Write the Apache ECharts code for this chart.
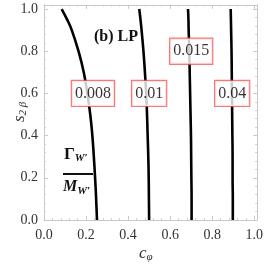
<!DOCTYPE html>
<html><head><meta charset="utf-8">
<script src="https://cdn.jsdelivr.net/npm/echarts@6/dist/echarts.min.js"></script>
<style>html,body{margin:0;padding:0;background:#fff}#c{width:266px;height:266px}</style>
</head><body><div id="c"></div>
<script>
// s_{2beta} sample values (y)
const sVals = [0.0, 0.1, 0.2, 0.3, 0.4, 0.5, 0.6, 0.7, 0.8, 0.9, 0.95, 1.0];
// c_phi values for each contour (x)
const c008 = [0.252, 0.248, 0.243, 0.237, 0.230, 0.220, 0.206, 0.189, 0.164, 0.132, 0.110, 0.084];
const c010 = [0.500, 0.499, 0.498, 0.496, 0.493, 0.490, 0.486, 0.480, 0.473, 0.464, 0.459, 0.453];
const c015 = [0.702, 0.702, 0.701, 0.700, 0.699, 0.697, 0.695, 0.693, 0.691, 0.688, 0.687, 0.685];
const c040 = [0.898, 0.898, 0.897, 0.897, 0.896, 0.895, 0.894, 0.893, 0.892, 0.890, 0.889, 0.888];
const contourNames = ['0.008', '0.01', '0.015', '0.04'];
// contour label positions
const labelX = [0.233, 0.500, 0.700, 0.895];
const labelY = [0.6, 0.6, 0.8, 0.6];
const tickLabels = ['0.0', '0.2', '0.4', '0.6', '0.8', '1.0'];

const serif = '"Liberation Serif", "Times New Roman", serif';
const curves = [c008, c010, c015, c040];

const chart = echarts.init(document.getElementById('c'));
const fmt = v => { const i = Math.round(v / 0.2); return Math.abs(v - i * 0.2) < 1e-6 ? tickLabels[i] : ''; };
const axisCommon = {
  min: 0, interval: 0.2,
  axisLine: { show: true, onZero: false, lineStyle: { color: '#c8c8c8', width: 1 } },
  axisTick: { show: true, inside: true, length: 4, lineStyle: { color: '#c8c8c8' } },
  minorTick: { show: true, splitNumber: 5, length: 2, lineStyle: { color: '#d0d0d0' } },
  splitLine: { show: false }
};
chart.setOption({
  animation: false,
  grid: { left: 44, top: 4.8, width: 218, height: 215.2, containLabel: false },
  xAxis: [
    Object.assign({}, axisCommon, { type: 'value', max: 1.014, position: 'bottom',
      axisLabel: { show: true, formatter: fmt, showMaxLabel: false, fontFamily: serif, fontSize: 14, color: '#333', margin: 8 } }),
    Object.assign({}, axisCommon, { type: 'value', max: 1.014, position: 'top', axisLabel: { show: false } })
  ],
  yAxis: [
    Object.assign({}, axisCommon, { type: 'value', max: 1.02, position: 'left',
      axisLabel: { show: true, formatter: fmt, showMaxLabel: false, fontFamily: serif, fontSize: 14, color: '#333', margin: 6 } }),
    Object.assign({}, axisCommon, { type: 'value', max: 1.02, position: 'right', axisLabel: { show: false } })
  ],
  series: curves.map((c, k) => ({
    type: 'line', xAxisIndex: 0, yAxisIndex: 0, showSymbol: false, smooth: true, z: 2,
    lineStyle: { color: '#000', width: 2.6 },
    data: c.map((x, i) => [x, sVals[i]])
  })).concat([{
    type: 'scatter', xAxisIndex: 0, yAxisIndex: 0, symbolSize: 0, z: 5,
    data: labelX.map((x, i) => ({ value: [x, labelY[i]], name: contourNames[i] })),
    label: { show: true, position: 'inside', formatter: p => p.name,
      fontFamily: serif, fontSize: 16, color: '#000',
      backgroundColor: '#fff', borderColor: '#ee5a5a', borderWidth: 1.2, padding: [5, 3, 4, 3] }
  }]),
  graphic: [
    { type: 'text', left: 94, top: 29, style: { text: '(b) LP', font: 'bold 16px ' + serif, fill: '#111' } },
    { type: 'text', left: 64, top: 146, style: { text: '{g|Γ}{w|W′}', rich: {
        g: { font: 'bold 17px ' + serif, fill: '#111' },
        w: { font: 'italic bold 11px ' + serif, fill: '#111', padding: [8, 0, 0, 0] } } } },
    { type: 'line', shape: { x1: 63, y1: 174, x2: 93, y2: 174 }, style: { stroke: '#111', lineWidth: 2 } },
    { type: 'text', left: 63, top: 179, style: { text: '{m|M}{w|W′}', rich: {
        m: { font: 'italic bold 16px ' + serif, fill: '#111' },
        w: { font: 'italic bold 11px ' + serif, fill: '#111', padding: [8, 0, 0, 0] } } } },
    { type: 'text', left: 139, top: 245, style: { text: '{c|c}{p|φ}', rich: {
        c: { font: 'italic 17px ' + serif, fill: '#333' },
        p: { font: 'italic 11px ' + serif, fill: '#333', padding: [8, 0, 0, 0] } } } },
    { type: 'text', x: 10, y: 122, rotation: Math.PI / 2, style: { text: '{s|s}{p|2 β}', rich: {
        s: { font: 'italic 17px ' + serif, fill: '#333' },
        p: { font: 'italic 11px ' + serif, fill: '#333', padding: [8, 0, 0, 0] } } } }
  ]
});
</script></body></html>
